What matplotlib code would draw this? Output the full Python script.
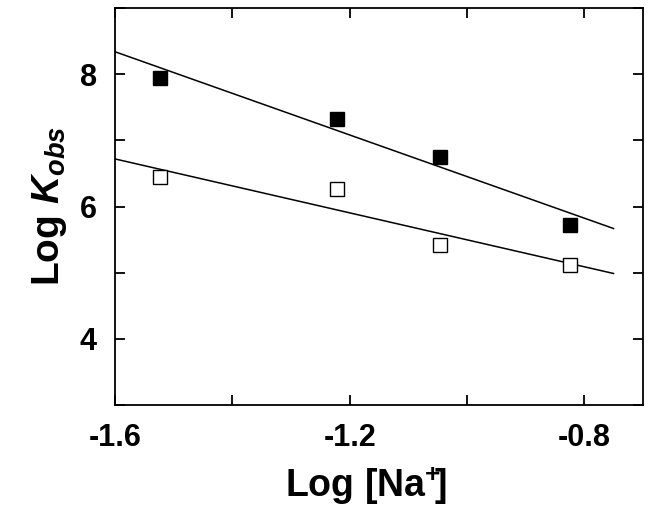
import numpy as np
import matplotlib
matplotlib.use("Agg")
import matplotlib.pyplot as plt
from matplotlib.ticker import MultipleLocator

plt.rcParams['font.family'] = ['Liberation Sans', 'DejaVu Sans']
plt.rcParams['font.weight'] = 'bold'
plt.rcParams['mathtext.fontset'] = 'custom'
plt.rcParams['mathtext.bf'] = 'Liberation Sans:bold'
plt.rcParams['mathtext.bfit'] = 'Liberation Sans:italic:bold'
plt.rcParams['mathtext.rm'] = 'Liberation Sans:bold'

# Log [Na+] and Log Kobs
log_na = [-1.523, -1.222, -1.046, -0.824]
filled = [7.95, 7.33, 6.75, 5.72]
opened = [6.44, 6.26, 5.42, 5.12]

fig = plt.figure(figsize=(6.5, 5.15), dpi=100)
ax = fig.add_axes([0.177, 0.214, 0.812, 0.770])

xfit = np.array([-1.6, -0.75])
for ys in (filled, opened):
    k, b = np.polyfit(log_na, ys, 1)
    ax.plot(xfit, k * xfit + b, color="black", lw=1.1, zorder=2)

ax.plot(log_na, filled, ls="none", marker="s", ms=10, mfc="black", mec="black", mew=1, zorder=3)
ax.plot(log_na, opened, ls="none", marker="s", ms=10, mfc="white", mec="black", mew=1, zorder=3)

ax.set_xlim(-1.6, -0.7)
ax.set_ylim(3, 9)
ax.xaxis.set_major_locator(MultipleLocator(0.4))
ax.xaxis.set_minor_locator(MultipleLocator(0.2))
ax.yaxis.set_major_locator(MultipleLocator(2))
ax.yaxis.set_minor_locator(MultipleLocator(1))
ax.tick_params(which="both", direction="in", top=True, right=True, length=7, width=1.3)
ax.tick_params(which="major", labelsize=22, pad=13)
ax.set_xticks([-1.6, -1.2, -0.8])
ax.set_xticklabels(["-1.6", "-1.2", "-0.8"])
for s in ax.spines.values():
    s.set_linewidth(1.3)

ax.set_xlabel(r"Log [Na$^{\mathbf{+}}\!$]", fontsize=27, fontweight="bold")
ax.xaxis.set_label_coords(0.475, -0.15)
ax.set_ylabel(r"Log $\mathbfit{K}_{\mathbfit{obs}}$", fontsize=28, fontweight="bold", labelpad=8)

fig.savefig("out.png", dpi=100)
